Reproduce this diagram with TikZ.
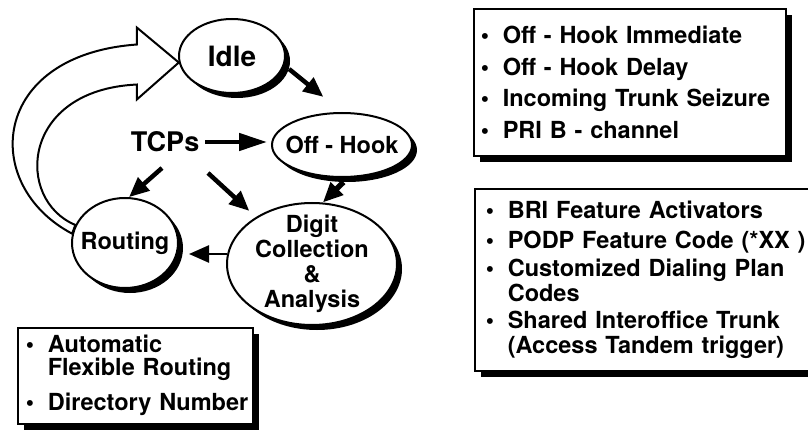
\documentclass[tikz,border=0pt]{standalone}
\usepackage{fontspec}
\setmainfont{TeX Gyre Heros}
\usetikzlibrary{shapes.geometric,arrows.meta,shadows,backgrounds,calc}

\newcommand\tcpitem{\makebox[22pt][l]{\textbullet}}
\newcommand\tcpwrap{\hspace*{22pt}}

\tikzset{
  tcpstate/.style={ellipse, draw, line width=2pt, fill=white, inner sep=-30pt, align=center,
    font=\bfseries\fontsize{23.5}{25}\selectfont,
    drop shadow={shadow xshift=5pt, shadow yshift=-5pt, fill=black, opacity=1}},
  listbox/.style={draw, line width=1.6pt, fill=white, anchor=north west, align=left,
    inner ysep=0pt,
    drop shadow={shadow xshift=6pt, shadow yshift=-6pt, fill=black, opacity=1}},
  flowarrow/.style={line width=4.5pt, -{Triangle[length=20pt,width=17pt]}}
}

\begin{document}
\begin{tikzpicture}[x=1pt, y=-1pt]
  \useasboundingbox (0,0) rectangle (808,430);

  \node[tcpstate, minimum width=106pt, minimum height=74pt, font=\bfseries\fontsize{28}{28}\selectfont] (idle) at (232,56) {Idle};
  \node[tcpstate, minimum width=140pt, minimum height=64pt] (offhook) at (342,145) {Off - Hook};
  \node[tcpstate, minimum width=106pt, minimum height=90pt] (routing) at (125,243) {Routing};
  \node[tcpstate, minimum width=170pt, minimum height=122pt] (digit) at (312,264) {Digit\\Collection\\\&\\Analysis};
  \node[font=\bfseries\fontsize{27}{27}\selectfont, inner sep=2pt] (tcps) at (165,142) {TCPs};

  \begin{scope}[on background layer]
    \coordinate (loophead) at (idle.187);
    \draw[line width=2pt, fill=white, line join=miter]
      (routing.170) .. controls (-20,185) and (-10,55) .. ($(loophead)+(-42,-18)$)
      -- ($(loophead)+(-42,-35)$) -- (loophead) -- ($(loophead)+(-42,37)$)
      -- ($(loophead)+(-42,22)$) .. controls (20,90) and (15,200) .. (routing.160) -- cycle;
  \end{scope}

  \draw[flowarrow, shorten <=6pt, shorten >=24pt] (idle.-10) -- (offhook.north);
  \draw[flowarrow, -{Triangle[length=28pt,width=17pt]}, shorten <=4pt, shorten >=4pt] (tcps.east) -- (tcps.east -| offhook.west);
  \draw[flowarrow] ([shift={(-3,26)}]tcps.center) -- (routing.85);
  \draw[flowarrow, shorten >=9pt] ([shift={(43,31)}]tcps.center) -- (digit.140);
  \draw[flowarrow, line width=2.5pt, shorten >=9pt] ([shift={(1,-10)}]digit.west) -- ([shift={(1,-10)}]digit.west -| routing.east);
  \draw[flowarrow, line width=5.5pt, shorten <=6pt] (offhook.-80) -- (digit.80);

  \node[listbox, minimum height=147pt, text width=298pt, inner xsep=7pt,
    font=\bfseries\fontsize{23.5}{31.7}\selectfont] (hookbox) at (473,8)
    {\tcpitem Off - Hook Immediate\\
     \tcpitem Off - Hook Delay\\
     \tcpitem Incoming Trunk Seizure\\
     \tcpitem PRI B - channel};
  \node[listbox, minimum height=182pt, text width=330pt, inner xsep=11pt,
    font=\bfseries\fontsize{23.5}{25}\selectfont] (digitbox) at (474,188)
    {\tcpitem BRI Feature Activators\\[5pt]
     \tcpitem PODP Feature Code (*XX )\\[3pt]
     \tcpitem Customized Dialing Plan\\
     \tcpwrap Codes\\[2pt]
     \tcpitem Shared Interoffice Trunk\\
     \tcpwrap (Access Tandem trigger)};
  \node[listbox, minimum height=96pt, text width=219pt, inner xsep=8pt,
    font=\bfseries\fontsize{23.5}{23}\selectfont] (routebox) at (17,327)
    {\tcpitem Automatic\\
     \tcpwrap Flexible Routing\\[12pt]
     \tcpitem\mbox{Directory Number}};
\end{tikzpicture}
\end{document}
